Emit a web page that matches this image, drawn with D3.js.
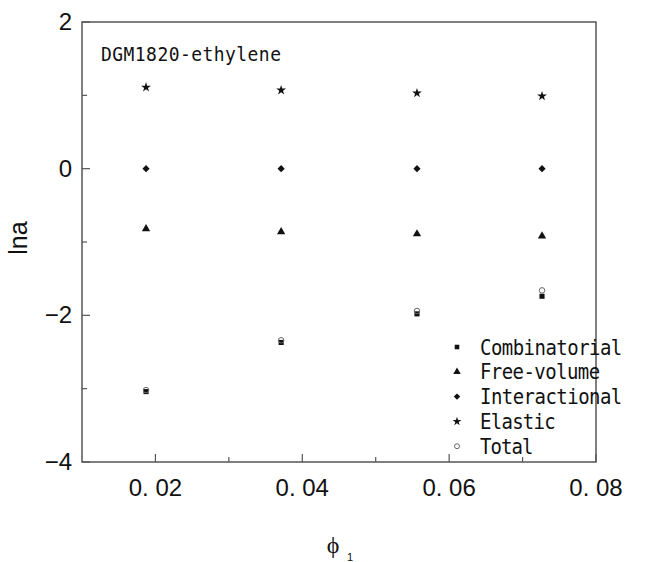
<!DOCTYPE html>
<html>
<head>
<meta charset="utf-8">
<script src="https://cdn.jsdelivr.net/npm/d3@7"></script>
<style>
  body { margin: 0; background: #fff; }
  svg { display: block; }
</style>
</head>
<body>
<div id="chart"></div>
<script>
// lna contributions vs phi1, DGM1820-ethylene

const phi = [0.01872, 0.03712, 0.05562, 0.07265];
const combinatorial = [-3.04, -2.37, -1.98, -1.74];
const freeVolume = [-0.82, -0.86, -0.89, -0.92];
const interactional = [0, 0, 0, 0];
const elastic = [1.11, 1.07, 1.03, 0.99];
const total = [-3.02, -2.34, -1.94, -1.66];

const seriesNames = ['Combinatorial', 'Free-volume', 'Interactional', 'Elastic', 'Total'];
const xMajorTicks = [0.02, 0.04, 0.06, 0.08];
const xMinorTicks = [0.03, 0.05, 0.07];
const yMajorTicks = [2, 0, -2, -4];
const yMinorTicks = [1, -1, -3];

const W = 653, H = 562;
const plot = { left: 82, top: 22, right: 596, bottom: 462 };

const svg = d3.select('#chart').append('svg')
    .attr('width', W)
    .attr('height', H);

const x = d3.scaleLinear().domain([0.01, 0.08]).range([plot.left, plot.right]);
const y = d3.scaleLinear().domain([-4, 2]).range([plot.bottom, plot.top]);

const frameColor = '#555';

// ticks (pointing inward)
const g = svg.append('g');
g.selectAll('.ymaj').data(yMajorTicks).enter().append('line')
    .attr('x1', plot.left).attr('x2', plot.left + 8)
    .attr('y1', d => y(d)).attr('y2', d => y(d))
    .attr('stroke', frameColor).attr('stroke-width', 1.2);
g.selectAll('.ymin').data(yMinorTicks).enter().append('line')
    .attr('x1', plot.left).attr('x2', plot.left + 5)
    .attr('y1', d => y(d)).attr('y2', d => y(d))
    .attr('stroke', frameColor).attr('stroke-width', 1.2);
g.selectAll('.xmaj').data(xMajorTicks).enter().append('line')
    .attr('x1', d => x(d)).attr('x2', d => x(d))
    .attr('y1', plot.bottom).attr('y2', plot.bottom - 8)
    .attr('stroke', frameColor).attr('stroke-width', 1.2);
g.selectAll('.xmin').data(xMinorTicks).enter().append('line')
    .attr('x1', d => x(d)).attr('x2', d => x(d))
    .attr('y1', plot.bottom).attr('y2', plot.bottom - 5)
    .attr('stroke', frameColor).attr('stroke-width', 1.2);

// frame
svg.append('rect')
    .attr('x', plot.left).attr('y', plot.top)
    .attr('width', plot.right - plot.left)
    .attr('height', plot.bottom - plot.top)
    .attr('fill', 'none')
    .attr('stroke', frameColor)
    .attr('stroke-width', 1.5);

// tick labels
svg.selectAll('.ylab').data(yMajorTicks).enter().append('text')
    .attr('x', 72)
    .attr('y', d => y(d) + 8)
    .attr('text-anchor', 'end')
    .attr('font-family', 'Liberation Sans, Arial, sans-serif')
    .attr('font-size', 24)
    .attr('fill', '#111')
    .text(d => d < 0 ? '\u2212' + Math.abs(d) : d);

svg.selectAll('.xlab').data(xMajorTicks).enter().append('text')
    .attr('x', d => x(d))
    .attr('y', 496)
    .attr('text-anchor', 'middle')
    .attr('font-family', 'Liberation Sans, Arial, sans-serif')
    .attr('font-size', 24)
    .attr('fill', '#111')
    .text(d => d3.format('.2f')(d).replace('.', '. '));

// axis titles
svg.append('text')
    .attr('transform', 'translate(27,238) rotate(-90)')
    .attr('text-anchor', 'middle')
    .attr('font-family', 'Liberation Sans, Arial, sans-serif')
    .attr('font-size', 25)
    .attr('fill', '#111')
    .text('lna');

svg.append('text')
    .attr('x', 333)
    .attr('y', 553)
    .attr('text-anchor', 'middle')
    .attr('font-family', 'Liberation Serif, Times New Roman, serif')
    .attr('font-size', 24)
    .attr('fill', '#111')
    .text('\u03D5');
svg.append('text')
    .attr('x', 350)
    .attr('y', 561)
    .attr('text-anchor', 'middle')
    .attr('font-family', 'Liberation Sans, Arial, sans-serif')
    .attr('font-size', 11)
    .attr('fill', '#111')
    .text('1');

// inner title (narrow, tall monospace look)
const monoFont = 'DejaVu Sans Mono, Liberation Mono, monospace';
svg.append('text')
    .attr('transform', 'translate(101,61) scale(1,1.12)')
    .attr('font-family', monoFont)
    .attr('font-size', 18)
    .attr('textLength', 180)
    .attr('lengthAdjust', 'spacing')
    .attr('fill', '#111')
    .text('DGM1820-ethylene');

// series definitions
const symbols = {
    'Combinatorial': { type: d3.symbolSquare, size: 26, fill: '#111', stroke: 'none', rotate: 0 },
    'Free-volume': { type: d3.symbolTriangle, size: 30, fill: '#111', stroke: 'none', rotate: 0 },
    'Interactional': { type: d3.symbolSquare, size: 26, fill: '#111', stroke: 'none', rotate: 45 },
    'Elastic': { type: d3.symbolStar, size: 30, fill: '#111', stroke: 'none', rotate: 0 },
    'Total': { type: d3.symbolCircle, size: 24, fill: 'none', stroke: '#666', rotate: 0 }
};
const seriesValues = [combinatorial, freeVolume, interactional, elastic, total];
const series = seriesNames.map((name, i) => ({
    name,
    points: phi.map((p, j) => ({ x: p, y: seriesValues[i][j] }))
}));

series.forEach(s => {
    const sym = symbols[s.name];
    svg.append('g').selectAll('path')
        .data(s.points)
        .enter()
        .append('path')
        .attr('d', d3.symbol().type(sym.type).size(sym.size))
        .attr('transform', d => `translate(${x(d.x)},${y(d.y)}) rotate(${sym.rotate})`)
        .attr('fill', sym.fill)
        .attr('stroke', sym.stroke)
        .attr('stroke-width', 1);
});

// legend
const legend = svg.append('g');
series.forEach((s, i) => {
    const sym = symbols[s.name];
    const ly = 347 + i * 24.8;
    legend.append('path')
        .attr('d', d3.symbol().type(sym.type).size(sym.size * 0.8))
        .attr('transform', `translate(457,${ly}) rotate(${sym.rotate})`)
        .attr('fill', sym.fill)
        .attr('stroke', sym.stroke)
        .attr('stroke-width', 1);
    legend.append('text')
        .attr('transform', `translate(480,${ly + 7.5}) scale(1,1.12)`)
        .attr('font-family', monoFont)
        .attr('font-size', 19)
        .attr('textLength', s.name.length * 11.1 - 2)
        .attr('lengthAdjust', 'spacing')
        .attr('fill', '#111')
        .text(s.name);
});
</script>
</body>
</html>
